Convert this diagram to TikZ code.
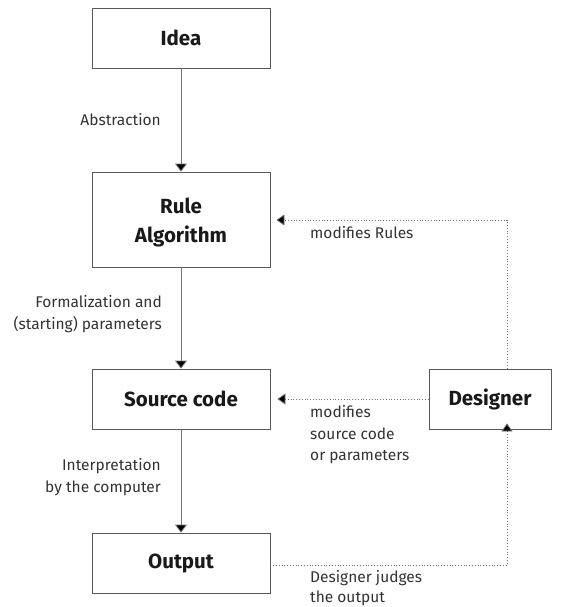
\documentclass[tikz,border=0pt]{standalone}
\usepackage{fontspec}
\setmainfont{Fira Sans}
\usetikzlibrary{arrows.meta,calc}
\begin{document}
\begin{tikzpicture}[x=1pt,y=-1pt,
  box/.style={draw=black!65,line width=0.8pt,minimum width=178pt,inner sep=0pt,font=\fontsize{20.5}{29}\selectfont\bfseries,align=center,text=black!90},
  lbl/.style={font=\fontsize{15.5}{21.5}\selectfont,text=black!80,inner sep=0pt},
  flow/.style={draw=black!55,line width=0.8pt,-{Triangle[width=12pt,length=8pt,fill=black]}},
  fb/.style={draw=black!55,line width=0.8pt,dotted,-{Triangle[width=11pt,length=8pt,fill=black]}}]
\useasboundingbox (0,0) rectangle (565,607);
\node[box,minimum height=60pt] (idea) at (181,38) {Idea};
\node[box,minimum height=95pt,inner ysep=0pt] (rule) at (181,219.5) {};
\node[font=\fontsize{20.5}{29}\selectfont\bfseries,align=center,text=black!90,inner sep=0pt] (rulet) at (181,222) {Rule\\Algorithm};
\node[box,minimum height=60pt] (src) at (181,399) {Source code};
\node[box,minimum height=60pt] (out) at (181,563) {Output};
\node[box,minimum width=122pt,minimum height=60pt] (des) at (490,399) {Designer};
\coordinate (vx) at (507,0);
\draw[flow] (idea) -- (rule);
\draw[flow] (rule) -- (src);
\draw[flow] (src) -- (out);
\draw[fb] (des.north -| vx) -- (vx |- 0,220) -- ([xshift=6pt]rule.east |- 0,220);
\draw[fb] (des.west) -- ([xshift=7pt]src.east);
\draw[fb] (out.east |- 0,565) -| ([yshift=6pt]des.south -| vx);
\node[lbl,anchor=east,align=right] (la) at (161,120) {Abstraction};
\node[lbl,anchor=east,align=right] (lf) at (162,314) {Formalization and\\(starting) parameters};
\node[lbl,anchor=east,align=right] (li) at (161,477) {Interpretation\\by the computer};
\node[lbl,anchor=west,align=left] (lr) at (310,233) {modifies Rules};
\node[lbl,anchor=west,align=left] (ls) at (310,435) {modifies\\source code\\or parameters};
\node[lbl,anchor=west,align=left,font=\fontsize{15.5}{20}\selectfont] (lo) at (310,588) {Designer judges\\the output};
\end{tikzpicture}
\end{document}
